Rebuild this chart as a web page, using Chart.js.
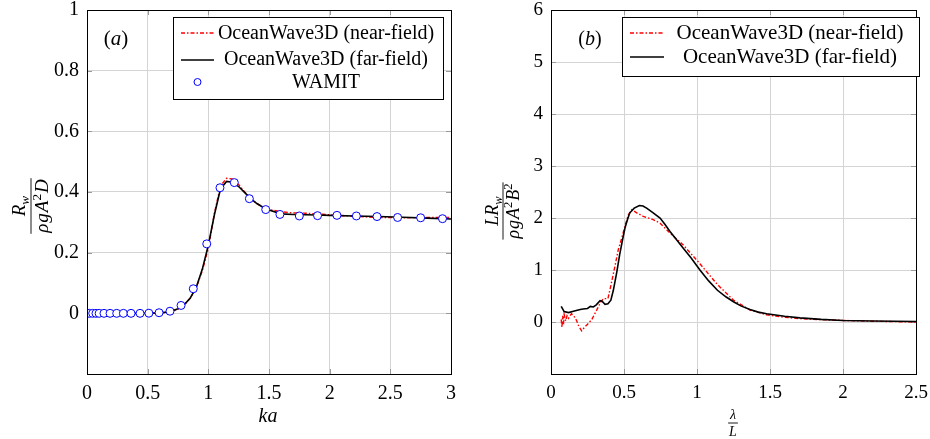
<!DOCTYPE html>
<html><head><meta charset="utf-8">
<script src="https://cdn.jsdelivr.net/npm/chart.js@4/dist/chart.umd.min.js"></script>
<style>
html,body{margin:0;padding:0;background:#fff;}
#wrap{position:relative;width:930px;height:439px;background:#fff;}
canvas{position:absolute;top:0;}
</style></head><body>
<div id="wrap">
<canvas id="ca" width="465" height="439" style="left:0"></canvas>
<canvas id="cb" width="465" height="439" style="left:465px"></canvas>
</div>
<script>
// ---------- data: panel (a) ----------
const kaCurve    = [0,0.1,0.2,0.3,0.4,0.5,0.6,0.65,0.7,0.75,0.8,0.85,0.9,0.95,1.0,1.05,1.1,1.15,1.2,1.25,1.3,1.35,1.4,1.45,1.5,1.6,1.7,1.8,1.9,2.0,2.2,2.4,2.6,2.8,3.0];
const nearFieldA = [0,0,0,0,0,0,0.001,0.003,0.007,0.014,0.027,0.05,0.085,0.14,0.215,0.33,0.42,0.445,0.443,0.425,0.4,0.378,0.362,0.35,0.342,0.335,0.331,0.330,0.328,0.325,0.320,0.316,0.315,0.316,0.316];
const farFieldA  = [0,0,0,0,0,0,0.002,0.004,0.008,0.015,0.028,0.05,0.085,0.145,0.225,0.325,0.41,0.435,0.432,0.418,0.398,0.378,0.362,0.35,0.341,0.328,0.326,0.325,0.324,0.323,0.321,0.319,0.317,0.314,0.311];
const kaWamit    = [0.0,0.02,0.047,0.074,0.10,0.14,0.19,0.245,0.30,0.363,0.437,0.51,0.594,0.684,0.775,0.876,0.987,1.096,1.214,1.338,1.473,1.59,1.75,1.90,2.06,2.22,2.39,2.56,2.75,2.93];
const wamitA     = [0,0,0,0,0,0,0,0,0,0,0,0.0005,0.002,0.007,0.026,0.081,0.229,0.414,0.431,0.378,0.342,0.326,0.321,0.322,0.323,0.321,0.319,0.316,0.315,0.312];
const xTicksA = [0,0.5,1,1.5,2,2.5,3];
const yTicksA = [0,0.2,0.4,0.6,0.8,1];

// ---------- data: panel (b) ----------
const lamNear    = [0.07,0.075,0.08,0.085,0.09,0.1,0.11,0.12,0.14,0.16,0.175,0.19,0.21,0.23,0.245,0.28,0.313,0.34,0.36,0.39,0.41,0.44,0.46,0.484,0.51,0.53,0.553,0.587,0.632,0.70,0.747,0.815,0.906,1.02,1.14,1.25,1.363,1.477,1.6,1.705,1.85,2.0,2.2,2.5];
const nearFieldB = [0.05,-0.1,0.12,-0.05,0.15,0.02,0.12,0.07,0.16,0.1,0.03,-0.08,-0.17,-0.1,-0.06,0.05,0.23,0.38,0.45,0.45,0.7,1.1,1.38,1.61,1.88,2.06,2.16,2.10,2.03,1.97,1.90,1.71,1.48,1.12,0.72,0.42,0.23,0.14,0.09,0.065,0.045,0.03,0.015,0.0];
const lamFar     = [0.07,0.09,0.12,0.16,0.2,0.22,0.25,0.27,0.29,0.31,0.336,0.35,0.37,0.39,0.41,0.427,0.45,0.47,0.49,0.507,0.525,0.54,0.57,0.605,0.63,0.655,0.7,0.747,0.78,0.815,0.86,0.906,0.96,1.02,1.08,1.14,1.2,1.25,1.3,1.363,1.42,1.477,1.6,1.705,1.85,2.0,2.2,2.5];
const farFieldB  = [0.30,0.2,0.18,0.21,0.24,0.25,0.26,0.30,0.29,0.33,0.41,0.40,0.34,0.35,0.42,0.61,0.95,1.29,1.58,1.81,1.98,2.10,2.19,2.24,2.23,2.19,2.10,2.0,1.88,1.74,1.58,1.42,1.23,1.0,0.79,0.61,0.48,0.39,0.31,0.24,0.19,0.16,0.11,0.08,0.05,0.03,0.02,0.01];
const xTicksB = [0,0.5,1,1.5,2,2.5];
const yTicksB = [0,1,2,3,4,5,6];

const seriesNames = ['OceanWave3D (near-field)','OceanWave3D (far-field)','WAMIT'];

// ---------- styling ----------
const SERIF = '"Liberation Serif", serif';
Chart.defaults.font.family = SERIF;
const GRID = '#d4d4d4';
const RED = '#ff0000', BLUE = '#0000ff';
const NEAR_DASH = [4,2,1.5,2];

function pts(xs, ys){ return xs.map((x,i)=>({x, y: ys[i]})); }

function fontStr(size, italic){ return (italic?'italic ':'') + size + 'px ' + SERIF; }

function richWidth(ctx, parts, size){
  let w = 0;
  for (const p of parts){
    ctx.font = fontStr(p.s ? size*0.7 : size, p.i);
    w += ctx.measureText(p.t).width + (p.gap || 0);
  }
  return w;
}
function drawRich(ctx, parts, x, y, size){
  let cx = x;
  for (const p of parts){
    const sz = p.s ? size*0.7 : size;
    ctx.font = fontStr(sz, p.i);
    let dy = 0;
    if (p.s === 'sup') dy = -size*0.38;
    if (p.s === 'sub') dy = size*0.22;
    ctx.fillText(p.t, cx, y + dy);
    cx += ctx.measureText(p.t).width + (p.gap || 0);
  }
}
function drawFrac(ctx, cx, cy, num, den, size, rot){
  ctx.save();
  ctx.translate(cx, cy);
  ctx.rotate(rot);
  ctx.fillStyle = '#000';
  ctx.textBaseline = 'alphabetic';
  ctx.textAlign = 'left';
  const wn = richWidth(ctx, num, size), wd = richWidth(ctx, den, size);
  const w = Math.max(wn, wd) + 2;
  ctx.strokeStyle = '#000'; ctx.lineWidth = 0.9;
  ctx.beginPath(); ctx.moveTo(-w/2, 0); ctx.lineTo(w/2, 0); ctx.stroke();
  drawRich(ctx, num, -wn/2, -size*0.3, size);
  drawRich(ctx, den, -wd/2, size*0.9, size);
  ctx.restore();
}

function decoPlugin(cfg){
  return {
    id: 'deco',
    beforeDatasetsDraw(chart){
      const ctx = chart.ctx, a = chart.chartArea;
      const xs = chart.scales.x, ys = chart.scales.y;
      ctx.save();
      ctx.strokeStyle = '#9a9a9a'; ctx.lineWidth = 1;
      ctx.beginPath();
      for (const t of xs.ticks){
        const p = Math.round(xs.getPixelForValue(t.value)) + 0.5;
        ctx.moveTo(p, a.bottom); ctx.lineTo(p, a.bottom - 5);
        ctx.moveTo(p, a.top); ctx.lineTo(p, a.top + 5);
      }
      for (const t of ys.ticks){
        const p = Math.round(ys.getPixelForValue(t.value)) + 0.5;
        ctx.moveTo(a.left, p); ctx.lineTo(a.left + 5, p);
        ctx.moveTo(a.right, p); ctx.lineTo(a.right - 5, p);
      }
      ctx.stroke();
      ctx.restore();
    },
    afterDraw(chart){
      const ctx = chart.ctx, a = chart.chartArea;
      ctx.save();
      // frame
      ctx.strokeStyle = '#000'; ctx.lineWidth = 1;
      ctx.strokeRect(Math.round(a.left)+0.5, Math.round(a.top)+0.5, Math.round(a.right-a.left), Math.round(a.bottom-a.top));
      // legend
      const L = cfg.legend;
      ctx.fillStyle = '#fff';
      ctx.fillRect(L.x, L.y, L.w, L.h);
      ctx.strokeStyle = '#000'; ctx.lineWidth = 1;
      ctx.strokeRect(L.x+0.5, L.y+0.5, L.w, L.h);
      ctx.textAlign = 'center'; ctx.textBaseline = 'alphabetic';
      chart.data.datasets.forEach((ds, i) => {
        const row = L.rows[i];
        if (!row) return;
        if (ds.showLine === false){
          ctx.beginPath();
          ctx.arc(L.sx0 + (L.sx1-L.sx0)/2, row.my, 3.5, 0, Math.PI*2);
          ctx.fillStyle = '#fff'; ctx.fill();
          ctx.strokeStyle = ds.pointBorderColor; ctx.lineWidth = 1; ctx.stroke();
        } else {
          ctx.beginPath();
          ctx.setLineDash(ds.borderDash || []);
          ctx.strokeStyle = ds.borderColor; ctx.lineWidth = ds.borderWidth;
          ctx.moveTo(L.sx0, row.my); ctx.lineTo(L.sx1, row.my);
          ctx.stroke();
          ctx.setLineDash([]);
        }
        ctx.fillStyle = '#000';
        ctx.font = fontStr(cfg.legendSize, false);
        ctx.fillText(ds.label, L.tx, row.by);
      });
      // panel tag (a)/(b)
      ctx.textAlign = 'left';
      ctx.fillStyle = '#000';
      const tag = [{t:'('},{t:cfg.tag,i:true},{t:')'}];
      const tw = richWidth(ctx, tag, cfg.tagSize);
      drawRich(ctx, tag, cfg.tagX - tw/2, cfg.tagY, cfg.tagSize);
      // axis titles
      if (cfg.xTitleFrac){
        const f = cfg.xTitleFrac;
        drawFrac(ctx, f.x, f.y, f.num, f.den, f.size, 0);
      } else {
        const w = richWidth(ctx, cfg.xTitle, cfg.xTitleSize);
        drawRich(ctx, cfg.xTitle, cfg.xTitleX - w/2, cfg.xTitleY, cfg.xTitleSize);
      }
      const f = cfg.yTitleFrac;
      drawFrac(ctx, f.x, f.y, f.num, f.den, f.size, -Math.PI/2);
      ctx.restore();
    }
  };
}

function makeChart(id, datasets, xTicks, yTicks, xr, yr, yWidth, tickSize, xPad, cfg){
  return new Chart(document.getElementById(id), {
    type: 'line',
    data: { datasets },
    options: {
      responsive: false, animation: false, devicePixelRatio: 1,
      layout: { padding: { top: 10, right: 14, left: 0, bottom: 0 } },
      plugins: { legend: { display: false }, tooltip: { enabled: false } },
      elements: { line: { tension: 0 } },
      scales: {
        x: {
          type: 'linear', min: xr[0], max: xr[1],
          afterBuildTicks: s => { s.ticks = xTicks.map(v => ({ value: v })); },
          afterFit: s => { s.height = 65; s.paddingLeft = 0; s.paddingRight = 0; },
          grid: { color: GRID, drawTicks: false, lineWidth: 1 },
          border: { color: '#000', width: 1 },
          ticks: { padding: xPad, color: '#000', font: { family: SERIF, size: tickSize, lineHeight: 1 }, maxRotation: 0, autoSkip: false, callback: v => String(v) }
        },
        y: {
          type: 'linear', min: yr[0], max: yr[1],
          afterBuildTicks: s => { s.ticks = yTicks.map(v => ({ value: v })); },
          afterFit: s => { s.width = yWidth; s.paddingTop = 0; s.paddingBottom = 0; },
          grid: { color: GRID, drawTicks: false, lineWidth: 1 },
          border: { color: '#000', width: 1 },
          ticks: { padding: 8, color: '#000', font: { family: SERIF, size: tickSize, lineHeight: 1 }, autoSkip: false, callback: v => String(v) }
        }
      }
    },
    plugins: [decoPlugin(cfg)]
  });
}

// ---------- panel (a) ----------
makeChart('ca', [
  { label: seriesNames[0], data: pts(kaCurve, nearFieldA), borderColor: RED, borderWidth: 1.4, borderDash: NEAR_DASH, pointRadius: 0, fill: false, order: 3 },
  { label: seriesNames[1], data: pts(kaCurve, farFieldA), borderColor: '#000', borderWidth: 1.6, pointRadius: 0, fill: false, order: 2 },
  { label: seriesNames[2], data: pts(kaWamit, wamitA), showLine: false, pointRadius: 4, pointBorderWidth: 1, pointBackgroundColor: '#fff', pointBorderColor: BLUE, borderColor: BLUE, order: 1 }
], xTicksA, yTicksA, [0,3], [-0.2,1], 87, 20, 10, {
  legendSize: 20, tagSize: 21,
  legend: { x: 173, y: 17, w: 270, h: 82, sx0: 181, sx1: 214, tx: 326, rows: [ {my: 33, by: 39}, {my: 60, by: 65}, {my: 82, by: 88} ] },
  tag: 'a', tagX: 116, tagY: 45,
  xTitle: [{t:'ka', i:true}], xTitleX: 268, xTitleY: 422, xTitleSize: 20,
  yTitleFrac: { x: 31, y: 206, size: 19,
    num: [{t:'R',i:true},{t:'w',i:true,s:'sub'}],
    den: [{t:'ρ',i:true,gap:1},{t:'g',i:true,gap:1},{t:'A',i:true},{t:'2',s:'sup',gap:1},{t:'D',i:true}] }
});

// ---------- panel (b) ----------
makeChart('cb', [
  { label: seriesNames[0], data: pts(lamNear, nearFieldB), borderColor: RED, borderWidth: 1.4, borderDash: NEAR_DASH, pointRadius: 0, fill: false, order: 3 },
  { label: seriesNames[1], data: pts(lamFar, farFieldB), borderColor: '#000', borderWidth: 1.6, pointRadius: 0, fill: false, order: 2 }
], xTicksB, yTicksB, [0,2.5], [-1,6], 86, 19, 10, {
  legendSize: 21, tagSize: 20,
  legend: { x: 157, y: 17, w: 297, h: 59, sx0: 165, sx1: 199, tx: 325, rows: [ {my: 33, by: 39}, {my: 57, by: 63} ] },
  tag: 'b', tagX: 125, tagY: 45,
  xTitleFrac: { x: 268, y: 423, size: 14,
    num: [{t:'λ',i:true}], den: [{t:'L',i:true}] },
  yTitleFrac: { x: 38, y: 211, size: 18,
    num: [{t:'L',i:true},{t:'R',i:true},{t:'w',i:true,s:'sub'}],
    den: [{t:'ρ',i:true,gap:1},{t:'g',i:true,gap:1},{t:'A',i:true},{t:'2',s:'sup',gap:1},{t:'B',i:true},{t:'2',s:'sup'}] }
});
</script>
</body></html>
